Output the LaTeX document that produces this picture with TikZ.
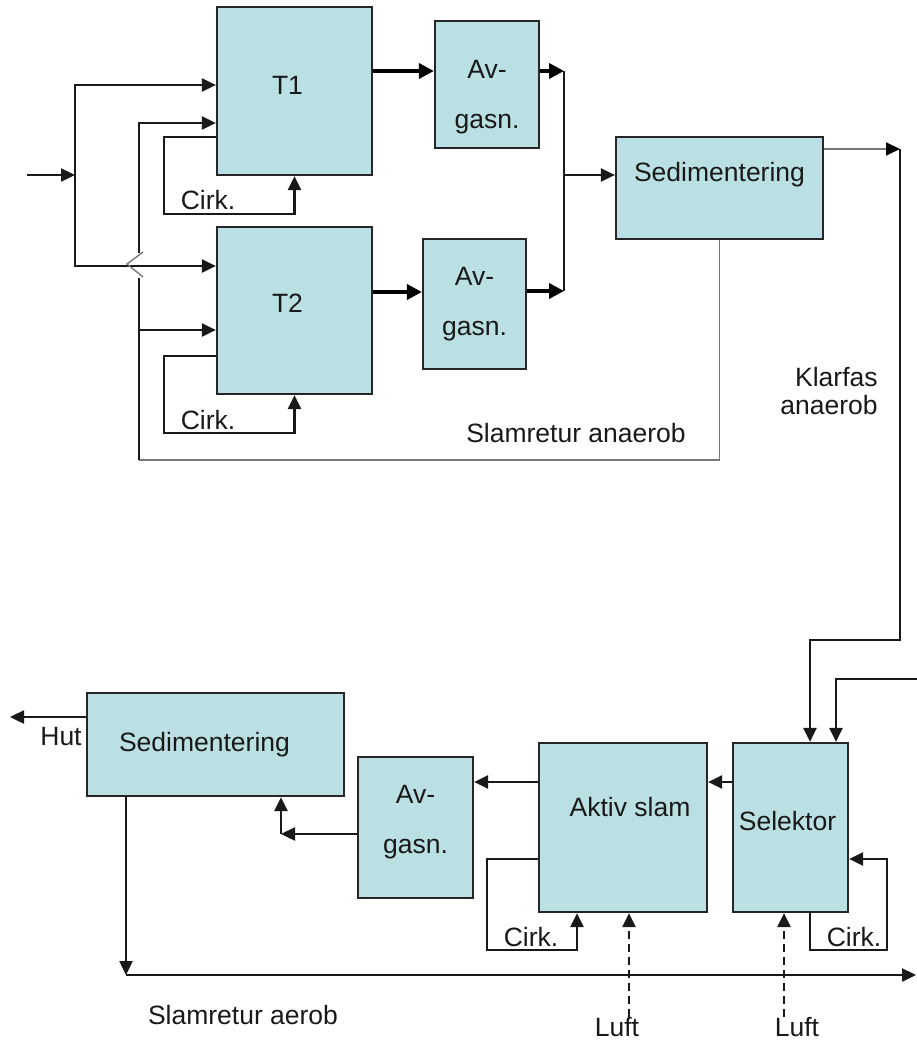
\documentclass[tikz,border=0pt]{standalone}
\usepackage{fontspec}
\setmainfont{Liberation Sans}
\usetikzlibrary{arrows.meta}
\definecolor{tankfill}{HTML}{BAE0E3}
\definecolor{retgray}{HTML}{777777}

\begin{document}
\begin{tikzpicture}[x=1pt,y=-1pt,
  every node/.style={font=\fontsize{26.5}{30}\selectfont, text=black!90, inner sep=0pt},
  tank/.style={draw=black!85, fill=tankfill, line width=2.2pt},
  twoline/.style={align=center, font=\fontsize{26.5}{50}\selectfont},
  wire/.style={line width=2.4pt, draw=black!90},
  arr/.style={wire, -{Triangle[length=14pt,width=13pt]}},
  bold/.style={line width=3.6pt, -{Triangle[length=15pt,width=15pt]}},
  grayline/.style={line width=1.8pt, draw=retgray},
  luftline/.style={wire, dash pattern=on 8pt off 5pt, -{Triangle[length=14pt,width=13pt]}}]
\useasboundingbox (0,0) rectangle (917,1041);

\node (t1) at (294.5,91) [tank, minimum width=155, minimum height=168, label={[xshift=-7,yshift=6]center:T1}] {};
\node (t2) at (294.5,310.5) [tank, minimum width=155, minimum height=167, label={[xshift=-7,yshift=7.5]center:T2}] {};
\node (avg1) at (487,84.5) [tank, minimum width=104, minimum height=127, label={[twoline,yshift=-12.5]center:{Av-\\gasn.}}] {};
\node (avg2) at (474.5,304) [tank, minimum width=103, minimum height=130, label={[twoline]center:{Av-\\gasn.}}] {};
\node (sed1) at (719.5,188) [tank, minimum width=207, minimum height=102, label={[yshift=13]center:Sedimentering}] {};

\node (sed2) at (215.5,744.5) [tank, minimum width=257, minimum height=103, label={[xshift=-11]center:Sedimentering}] {};
\node (avg3) at (415.5,827.5) [tank, minimum width=115, minimum height=141, label={[twoline,yshift=5.5]center:{Av-\\gasn.}}] {};
\node (akt) at (623,827.5) [tank, minimum width=168, minimum height=169, label={[xshift=7,yshift=20.5]center:Aktiv slam}] {};
\node (sel) at (790.5,827.5) [tank, minimum width=115, minimum height=169, label={[xshift=-3,yshift=6.5]center:Selektor}] {};

\node (cirk1) at (208,200) {Cirk.};
\node (cirk2) at (208,420) {Cirk.};
\node (slamana) at (576,433) {Slamretur anaerob};
\node (klarfas) at (829,391) [align=right, font=\fontsize{26.5}{28}\selectfont] {Klarfas\\anaerob};
\node (hut) at (61,737) {Hut};
\node (slamaer) at (243,1015) {Slamretur aerob};
\node (cirk3) at (531,937) {Cirk.};
\node (cirk4) at (854,937) {Cirk.};
\node (luft1) at (617,1027) {Luft};
\node (luft2) at (797,1027) {Luft};

% inflow to T1 and T2
\coordinate (feed) at (27,175);
\coordinate (fork) at (75,175);
\draw[arr] (feed) -- (fork);
\draw[arr] (fork) |- ([yshift=6]t1.west);
\draw[arr] (fork) |- ([yshift=44.5]t2.west);

% slamretur anaerob
\coordinate (r1) at (139,253);
\coordinate (r2) at (139,278);
\coordinate (r3) at (139,460);
\coordinate (r4) at (139,330);
\draw[grayline] (sed1.south) |- (r3);
\draw[wire] (r3) -- (r2);
\draw[line width=1.4pt, draw=retgray] (143,252) -- (127,264) -- (143,277);
\draw[arr] (r1) |- ([yshift=-32]t1.west);
\draw[arr] (r4) -- ([yshift=-19.5]t2.west);

\draw[arr] ([yshift=-46]t1.west) -| (164,214) -| (t1.south);
\draw[arr] ([yshift=-45.5]t2.west) -| (164,433) -| (t2.south);

\draw[bold] ([yshift=20]t1.east) -- ([yshift=13.5]avg1.west);
\draw[bold] ([yshift=18.5]t2.east) -- ([yshift=12]avg2.west);
\coordinate (c1) at (564,71);
\coordinate (c2) at (564,291);
\coordinate (col) at (564,175);
\draw[bold] ([yshift=13.5]avg1.east) -- (c1);
\draw[bold] ([yshift=13]avg2.east) -- (c2);
\draw[wire] (c1) -- (c2);
\draw[arr] (col) -- ([yshift=13]sed1.west);

% klarfas anaerob
\coordinate (k1) at (900,149);
\coordinate (k2) at (900,640);
\draw[grayline, -{Triangle[length=14pt,width=13pt,color=black]}] ([yshift=39]sed1.east) -- (k1);
\draw[arr] (k1) -- (k2) -| ([xshift=19.5]sel.north);
\coordinate (ext) at (917,679);
\draw[arr] (ext) -| ([xshift=45.5]sel.north);

% aerob
\draw[arr] ([yshift=45.5]sel.west) -- ([yshift=45.5]akt.east);
\draw[arr] ([yshift=45.5]akt.west) -- ([yshift=45.5]avg3.east);
\coordinate (c3) at (281,834);
\draw[arr] ([yshift=-6.5]avg3.west) -- (c3);
\draw[arr] (c3) -- ([xshift=65.5]sed2.south);
\coordinate (out) at (10,717);
\draw[arr] ([yshift=27.5]sed2.west) -- (out);
\coordinate (c4) at (126,975);
\coordinate (ret) at (916,975);
\draw[arr] ([xshift=-89.5]sed2.south) -- (c4);
\draw[arr] (c4) -- (ret);
\draw[arr] ([yshift=-31.5]akt.west) -| (487,950) -| ([xshift=-46]akt.south);
\draw[arr] ([xshift=19.5]sel.south) |- (887,950) |- ([yshift=-31.5]sel.east);
\draw[luftline] ([xshift=12]luft1.north) -- ([xshift=6]akt.south);
\draw[luftline] ([xshift=-13]luft2.north) -- ([xshift=-6.5]sel.south);
\end{tikzpicture}
\end{document}
